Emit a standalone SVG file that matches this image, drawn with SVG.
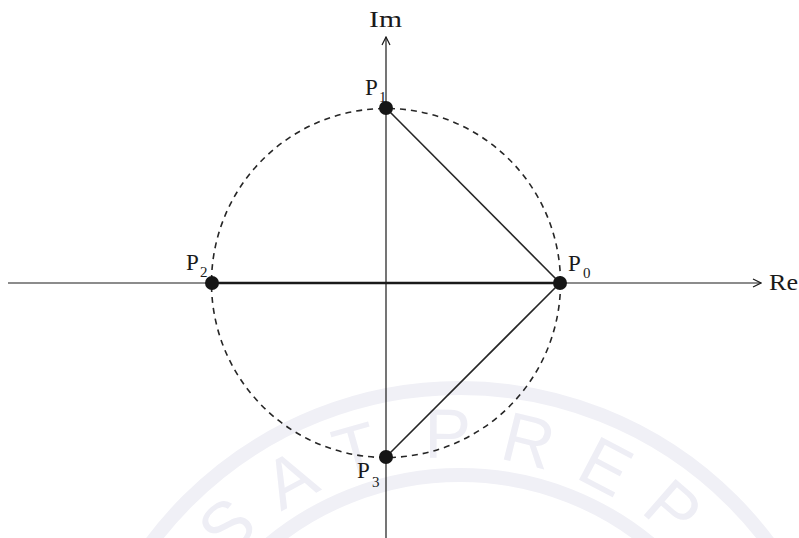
<svg xmlns="http://www.w3.org/2000/svg" width="799" height="538" viewBox="0 0 799 538">
<style>
.lbl{font-family:"Liberation Serif","Times New Roman",serif;font-size:23px;fill:#1a1a1a}
.sub{font-family:"Liberation Serif","Times New Roman",serif;font-size:15px;fill:#1a1a1a}
.ax{stroke:#1a1a1a;stroke-width:1.2;fill:none}
.seg{stroke:#262626;stroke-width:1.6;fill:none}
.dot{fill:#151515}
.wm{fill:none;stroke:#f0f0f6;stroke-width:14}
.wmt{font-family:"Liberation Sans",Arial,sans-serif;font-size:70px;fill:#eeeef5;letter-spacing:27px;word-spacing:-30px}
</style>
<defs>
<marker id="arr" viewBox="0 0 10 10" refX="9" refY="5" markerWidth="10" markerHeight="10" markerUnits="userSpaceOnUse" orient="auto">
<path d="M1,1 L9,5 L1,9" fill="none" stroke="#1a1a1a" stroke-width="1.2"/>
</marker>
<path id="wmp" d="M 145,773 A 315,315 0 0 1 775,773"/>
</defs>
<rect width="799" height="538" fill="#ffffff"/>
<g id="watermark">
<path class="wm" d="M 75,773 A 385,385 0 0 1 845,773"/>
<path class="wm" d="M 162,773 A 298,298 0 0 1 758,773"/>
<text class="wmt" text-anchor="middle"><textPath href="#wmp" startOffset="50%">SAT PREP</textPath></text>
</g>
<g id="connectors">
<line class="ax" x1="8" y1="283" x2="761" y2="283" marker-end="url(#arr)"/>
<line class="ax" x1="386" y1="538" x2="386" y2="37" marker-end="url(#arr)"/>
<circle cx="386" cy="283" r="174.5" fill="none" stroke="#262626" stroke-width="1.6" stroke-dasharray="6,5"/>
<line x1="212" y1="283" x2="560" y2="283" stroke="#1a1a1a" stroke-width="2.6"/>
<line class="seg" x1="386" y1="108" x2="560" y2="283"/>
<line class="seg" x1="386" y1="457" x2="560" y2="283"/>
</g>
<g id="axis-labels">
<text class="lbl" x="369" y="27" textLength="33" lengthAdjust="spacingAndGlyphs">Im</text>
<text class="lbl" x="769" y="290" textLength="29" lengthAdjust="spacingAndGlyphs">Re</text>
</g>
<g id="P0">
<circle class="dot" cx="560" cy="283" r="7"/>
<text class="lbl" x="568" y="271">P</text>
<text class="sub" x="583" y="278">0</text>
</g>
<g id="P1">
<circle class="dot" cx="386" cy="108" r="7"/>
<text class="lbl" x="365" y="95">P</text>
<text class="sub" x="379" y="102">1</text>
</g>
<g id="P2">
<circle class="dot" cx="212" cy="283" r="7"/>
<text class="lbl" x="186" y="270">P</text>
<text class="sub" x="200" y="277">2</text>
</g>
<g id="P3">
<circle class="dot" cx="386" cy="457" r="7"/>
<text class="lbl" x="357" y="478">P</text>
<text class="sub" x="372" y="487">3</text>
</g>
</svg>
